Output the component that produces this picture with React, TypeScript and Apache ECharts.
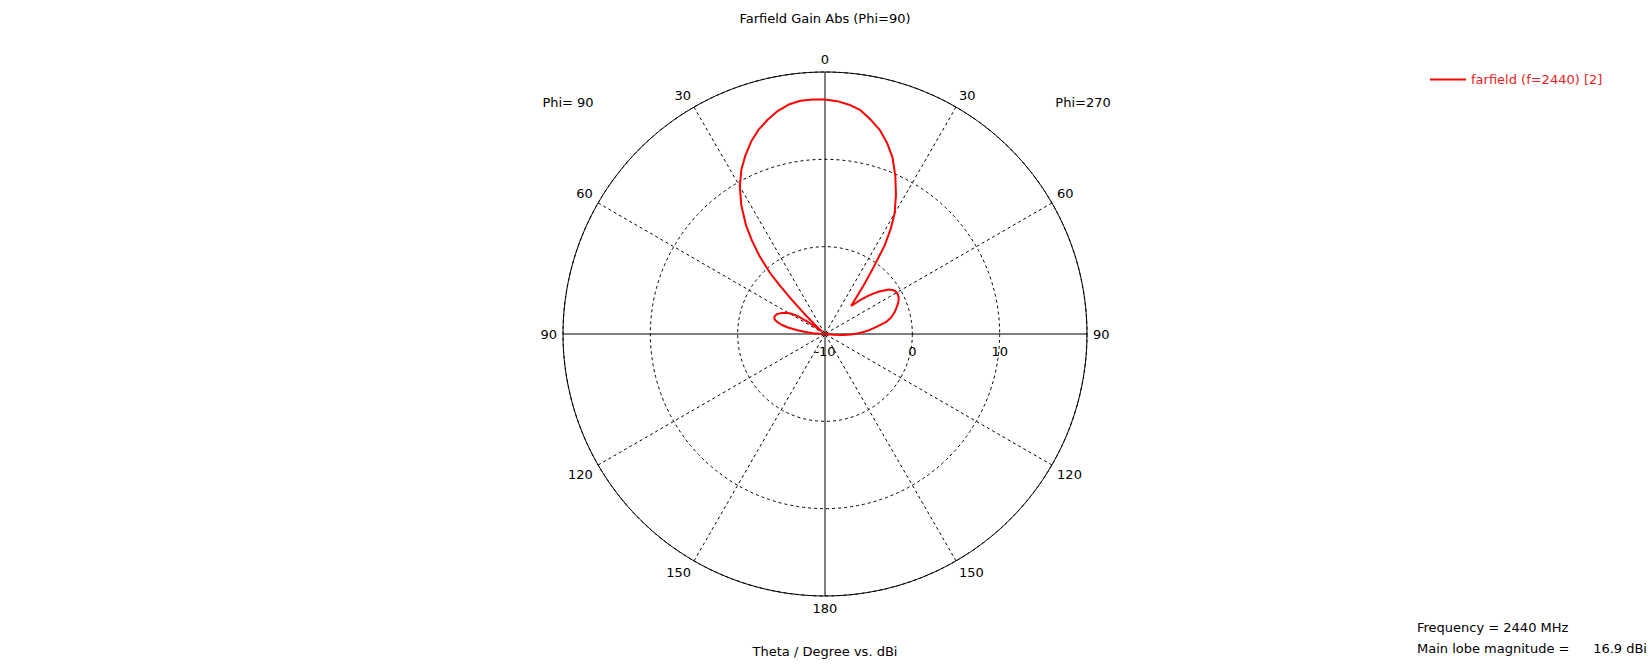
import React, { useEffect, useRef } from "react";
import * as echarts from "echarts";

const FONT = '"DejaVu Sans", Verdana, sans-serif';

// Gain (dBi) versus theta for the Phi=90 cut (left half of the plot)
const phi90Theta = [0, 3, 6, 9, 12, 15, 18, 21, 24, 27, 30, 33, 36, 38, 40, 42, 43, 44, 45.5, 47, 49, 51, 53, 55, 57, 59, 61, 64, 67, 70, 72, 74, 76, 78, 80, 82, 84, 86, 88, 90, 120, 150, 180];
const phi90Gain = [16.85, 16.9, 16.85, 16.6, 16.1, 15.4, 14.6, 13.6, 12.4, 11.1, 9.5, 7.6, 5.4, 3.6, 1.7, -0.6, -2.5, -4.4, -6.6, -8.3, -9.5, -9.6, -8.8, -7.5, -6.2, -5.5, -5.0, -4.5, -4.1, -3.9, -3.9, -4.0, -4.4, -4.9, -5.7, -6.7, -7.6, -8.6, -9.4, -10, -10, -10, -10];

// Gain (dBi) versus theta for the Phi=270 cut (right half of the plot)
const phi270Theta = [0, 3, 6, 9, 12, 15, 18, 21, 24, 27, 30, 32, 34, 36, 38, 40, 42, 43, 44, 46, 48, 50, 52, 55, 58, 61, 64, 67, 70, 73, 76, 79, 82, 85, 87, 89, 91, 93, 95, 97, 120, 150, 180];
const phi270Gain = [16.85, 16.7, 16.4, 15.95, 15.1, 14.2, 13.0, 11.6, 9.8, 7.9, 5.95, 4.2, 2.2, -0.5, -2.5, -4.1, -5.2, -5.6, -5.3, -4.4, -3.6, -2.8, -2.1, -1.1, -0.6, -0.5, -0.6, -0.9, -1.3, -1.7, -2.2, -2.9, -4.0, -4.9, -5.6, -6.3, -7.0, -8.0, -9.0, -10, -10, -10, -10];

// Scale of the plot
const gainMin = -10;
const gainMax = 20;
const gainStep = 10;
const thetaStep = 30;

const seriesName = "farfield (f=2440) [2]";
const titleText = "Farfield Gain Abs (Phi=90)";
const axisCaption = "Theta / Degree vs. dBi";
const leftCutLabel = "Phi= 90";
const rightCutLabel = "Phi=270";
const frequencyText = "Frequency = 2440 MHz";
const mainLobeLabel = "Main lobe magnitude =";
const mainLobeValue = "16.9 dBi";

// Polar angle (counter-clockwise from east) for a theta on each half
const leftAngle = (t: number) => 90 + t;
const rightAngle = (t: number) => (90 - t + 360) % 360;

const thetaLabel = (v: number) => {
  const a = ((v % 360) + 360) % 360;
  return String(a <= 270 ? Math.abs(a - 90) : 450 - a);
};

function buildPattern(): [number, number][] {
  const pts: [number, number][] = [];
  for (let i = phi90Theta.length - 1; i >= 0; i--) {
    pts.push([phi90Gain[i], leftAngle(phi90Theta[i])]);
  }
  for (let i = 0; i < phi270Theta.length; i++) {
    pts.push([phi270Gain[i], rightAngle(phi270Theta[i])]);
  }
  return pts;
}

export default function App() {
  const ref = useRef<HTMLDivElement>(null);

  useEffect(() => {
    if (!ref.current) return;
    const chart = echarts.init(ref.current, undefined, { renderer: "svg" });
    const textStyle = (text: string, align: string) => ({
      text,
      align,
      verticalAlign: "middle",
      font: `13px ${FONT}`,
      fill: "#000",
    });
    // solid diameter through the centre (0-180 and 90-90)
    const axisLine = (a: number) => ({
      type: "line",
      coordinateSystem: "polar",
      data: [
        [gainMax, a],
        [gainMax, a + 180],
      ],
      symbol: "none",
      silent: true,
      lineStyle: { color: "#000", width: 1 },
      z: 1,
    });

    chart.setOption({
      animation: false,
      polar: { center: [825, 334], radius: 262 },
      angleAxis: {
        type: "value",
        min: 0,
        max: 360,
        interval: thetaStep,
        startAngle: 0,
        clockwise: false,
        axisLine: { lineStyle: { color: "#000", width: 1 } },
        axisTick: { show: false },
        axisLabel: {
          margin: 6,
          color: "#000",
          fontSize: 13,
          fontFamily: FONT,
          formatter: thetaLabel,
        },
        splitLine: {
          show: true,
          // every third spoke is a main axis, drawn solid by its own series
          lineStyle: { color: ["transparent", "#000", "#000"], width: 1, type: [3, 3] },
        },
      },
      radiusAxis: {
        type: "value",
        min: gainMin,
        max: gainMax,
        interval: gainStep,
        axisLine: { show: false },
        axisTick: { show: false },
        axisLabel: {
          margin: -17,
          align: "center",
          verticalAlign: "middle",
          showMaxLabel: false,
          color: "#000",
          fontSize: 13,
          fontFamily: FONT,
        },
        splitLine: {
          show: true,
          lineStyle: { color: "#000", width: 1, type: [3, 3] },
        },
      },
      legend: {
        data: [{ name: seriesName, icon: "rect" }],
        left: 1430,
        top: 73,
        padding: 0,
        itemWidth: 36,
        itemHeight: 2,
        textStyle: { color: "#e81e25", fontSize: 13, fontFamily: FONT },
      },
      series: [
        axisLine(0),
        axisLine(90),
        {
          type: "line",
          name: seriesName,
          coordinateSystem: "polar",
          data: buildPattern(),
          symbol: "none",
          showSymbol: false,
          smooth: false,
          lineStyle: { color: "#ff0000", width: 2 },
          itemStyle: { color: "#ff0000" },
          z: 3,
        },
      ],
      graphic: [
        { type: "text", x: 825, y: 18, style: textStyle(titleText, "center") },
        { type: "text", x: 568, y: 102, style: textStyle(leftCutLabel, "center") },
        { type: "text", x: 1083, y: 102, style: textStyle(rightCutLabel, "center") },
        { type: "text", x: 825, y: 651, style: textStyle(axisCaption, "center") },
        { type: "text", x: 1417, y: 627, style: textStyle(frequencyText, "left") },
        { type: "text", x: 1417, y: 648, style: textStyle(mainLobeLabel, "left") },
        { type: "text", x: 1647, y: 648, style: textStyle(mainLobeValue, "right") },
      ],
    });
    return () => chart.dispose();
  }, []);

  return (
    <div
      ref={ref}
      style={{ position: "fixed", left: 0, top: 0, width: 1650, height: 668, background: "#fff" }}
    />
  );
}
